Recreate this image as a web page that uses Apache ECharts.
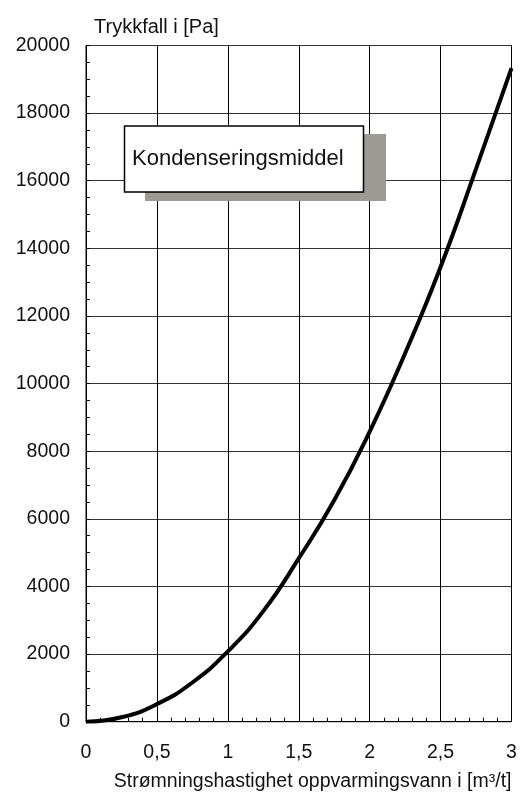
<!DOCTYPE html>
<html>
<head>
<meta charset="utf-8">
<script src="https://cdn.jsdelivr.net/npm/echarts@6/dist/echarts.min.js"></script>
<style>
html,body{margin:0;padding:0;background:#fff;}
#chart{width:521px;height:793px;}
</style>
</head>
<body>
<div id="chart"></div>
<script>
// Data
const flowRates = [0, 0.25, 0.5, 0.75, 1, 1.25, 1.5, 1.75, 2, 2.25, 2.5, 2.75, 3];
const pressureDrop = [0, 130, 520, 1160, 2080, 3270, 4830, 6550, 8580, 10900, 13450, 16350, 19330];
const yTitle = 'Trykkfall i [Pa]';
const xTitle = 'Strømningshastighet oppvarmingsvann i [m³/t]';
const annotationText = 'Kondenseringsmiddel';

const FONT = '"Liberation Sans", Arial, sans-serif';
const chart = echarts.init(document.getElementById('chart'));
const seriesData = flowRates.map((x, i) => [x, pressureDrop[i]]);

chart.setOption({
  animation: false,
  backgroundColor: '#fff',
  title: {
    text: yTitle,
    left: 89,
    top: 12,
    textStyle: {fontFamily: FONT, fontSize: 20, fontWeight: 'normal', color: '#111'}
  },
  grid: {
    left: 86, right: 9.5, top: 45.5, bottom: 71.3,
    show: true, borderColor: '#000', borderWidth: 1, backgroundColor: 'transparent'
  },
  xAxis: {
    type: 'value',
    min: 0, max: 3, interval: 0.5,
    name: xTitle,
    nameLocation: 'end',
    nameGap: 0,
    nameTextStyle: {
      fontFamily: FONT, fontSize: 19.5, color: '#111',
      align: 'right', verticalAlign: 'top', padding: [50, 0, 0, 0]
    },
    axisLine: {show: true, lineStyle: {color: '#000', width: 1}},
    axisTick: {show: true, inside: true, length: 4, lineStyle: {color: '#000'}},
    minorTick: {show: true, splitNumber: 5, length: 4, lineStyle: {color: '#000'}},
    axisLabel: {
      fontFamily: FONT, fontSize: 19.5, color: '#111', margin: 21,
      formatter: v => String(v).replace('.', ',')
    },
    splitLine: {show: true, lineStyle: {color: '#000', width: 1}}
  },
  yAxis: {
    type: 'value',
    min: 0, max: 20000, interval: 2000,
    axisLine: {show: true, lineStyle: {color: '#000', width: 1}},
    axisTick: {show: true, inside: true, length: 4, lineStyle: {color: '#000'}},
    minorTick: {show: true, splitNumber: 4, length: 4, lineStyle: {color: '#000'}},
    axisLabel: {fontFamily: FONT, fontSize: 19.5, color: '#111', margin: 16, formatter: v => String(v)},
    splitLine: {show: true, lineStyle: {color: '#333', width: 1}}
  },
  series: [{
    type: 'line',
    data: seriesData,
    smooth: 0.5,
    symbol: 'none',
    lineStyle: {color: '#000', width: 4},
    z: 5
  }],
  graphic: [
    {type: 'rect', shape: {x: 145, y: 134, width: 241, height: 67}, style: {fill: '#9d9995'}, z: 100},
    {type: 'rect', shape: {x: 124.5, y: 126, width: 239, height: 66}, style: {fill: '#fff', stroke: '#000', lineWidth: 1.5}, z: 101},
    {type: 'text', x: 132, y: 159, style: {text: annotationText, font: '22px "Liberation Sans", Arial, sans-serif', fill: '#111', verticalAlign: 'middle', align: 'left'}, z: 102}
  ]
});
</script>
</body>
</html>
